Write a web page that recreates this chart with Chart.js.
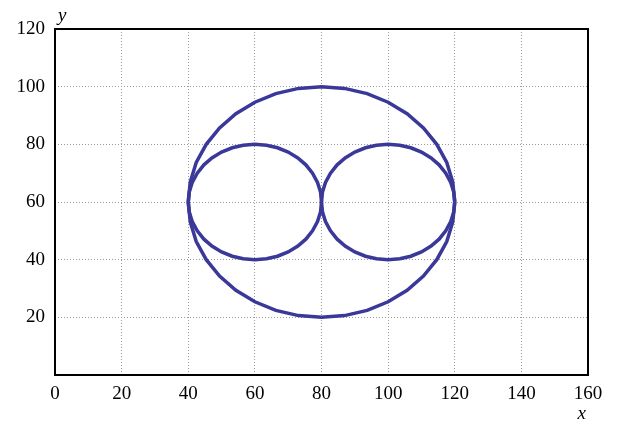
<!DOCTYPE html>
<html>
<head>
<meta charset="utf-8">
<script src="https://cdn.jsdelivr.net/npm/chart.js@4"></script>
<style>
  html, body { margin: 0; padding: 0; background: #fff; }
  #wrap { width: 618px; height: 421px; position: relative; }
</style>
</head>
<body>
<div id="wrap"><canvas id="c" width="618" height="421"></canvas></div>
<script>
// Outer circle points
const bigX = [120,119.4,117.6,114.6,110.6,105.7,100,93.7,86.9,80,73.1,66.3,60,54.3,49.4,45.4,42.4,40.6,40,40.6,42.4,45.4,49.4,54.3,60,66.3,73.1,80,86.9,93.7,100,105.7,110.6,114.6,117.6,119.4,120];
const bigY = [60,66.9,73.7,80,85.7,90.6,94.6,97.6,99.4,100,99.4,97.6,94.6,90.6,85.7,80,73.7,66.9,60,53.1,46.3,40,34.3,29.4,25.4,22.4,20.6,20,20.6,22.4,25.4,29.4,34.3,40,46.3,53.1,60];
// Left inner circle
const leftX = [80,79.7,78.8,77.3,75.3,72.9,70,66.8,63.5,60,56.5,53.2,50,47.1,44.7,42.7,41.2,40.3,40,40.3,41.2,42.7,44.7,47.1,50,53.2,56.5,60,63.5,66.8,70,72.9,75.3,77.3,78.8,79.7,80];
const leftY = [60,63.5,66.8,70,72.9,75.3,77.3,78.8,79.7,80,79.7,78.8,77.3,75.3,72.9,70,66.8,63.5,60,56.5,53.2,50,47.1,44.7,42.7,41.2,40.3,40,40.3,41.2,42.7,44.7,47.1,50,53.2,56.5,60];
// Right inner circle
const rightX = [120,119.7,118.8,117.3,115.3,112.9,110,106.8,103.5,100,96.5,93.2,90,87.1,84.7,82.7,81.2,80.3,80,80.3,81.2,82.7,84.7,87.1,90,93.2,96.5,100,103.5,106.8,110,112.9,115.3,117.3,118.8,119.7,120];
const rightY = [60,63.5,66.8,70,72.9,75.3,77.3,78.8,79.7,80,79.7,78.8,77.3,75.3,72.9,70,66.8,63.5,60,56.5,53.2,50,47.1,44.7,42.7,41.2,40.3,40,40.3,41.2,42.7,44.7,47.1,50,53.2,56.5,60];

const xTicks = [0,20,40,60,80,100,120,140,160];
const yTicks = [20,40,60,80,100,120];
const xTitle = 'x';
const yTitle = 'y';

const toPts = (xs, ys) => xs.map((x, i) => ({x: x, y: ys[i]}));
const lineColor = '#3a3898';
const mk = (xs, ys) => ({
  data: toPts(xs, ys),
  showLine: true,
  borderColor: lineColor,
  borderWidth: 3.5,
  pointRadius: 0,
  tension: 0,
  fill: false
});

const FONT = "'Liberation Serif', 'Times New Roman', serif";

const framePlugin = {
  id: 'frame',
  afterDraw(chart) {
    const {ctx, chartArea: a} = chart;
    ctx.save();
    ctx.strokeStyle = '#000';
    ctx.lineWidth = 2;
    ctx.strokeRect(a.left, a.top, a.right - a.left, a.bottom - a.top);
    ctx.fillStyle = '#000';
    ctx.font = "italic 19px " + FONT;
    ctx.textAlign = 'left';
    ctx.textBaseline = 'alphabetic';
    ctx.fillText(yTitle, a.left + 3, a.top - 8);
    ctx.textAlign = 'right';
    ctx.fillText(xTitle, a.right - 2, a.bottom + 44);
    ctx.restore();
  }
};

new Chart(document.getElementById('c'), {
  type: 'scatter',
  data: { datasets: [mk(bigX, bigY), mk(leftX, leftY), mk(rightX, rightY)] },
  options: {
    responsive: false,
    animation: false,
    layout: { padding: { left: 0, top: 29, right: 30, bottom: 0 } },
    plugins: { legend: { display: false }, tooltip: { enabled: false } },
    scales: {
      x: {
        type: 'linear', min: 0, max: 160,
        afterBuildTicks: s => { s.ticks = xTicks.map(v => ({value: v})); },
        afterFit: s => { s.height = 46; s.paddingLeft = 0; s.paddingRight = 0; },
        ticks: { color: '#000', font: { family: FONT, size: 19 }, padding: 8, maxRotation: 0 },
        grid: { color: '#9a9a9a', lineWidth: 1, drawTicks: false, tickLength: 0 },
        border: { display: false, dash: [1, 2] }
      },
      y: {
        type: 'linear', min: 0, max: 120,
        afterBuildTicks: s => { s.ticks = [0].concat(yTicks).map(v => ({value: v})); },
        afterFit: s => { s.width = 55; },
        ticks: { color: '#000', font: { family: FONT, size: 19 }, padding: 10,
                 callback: v => (yTicks.includes(v) ? String(v) : '') },
        grid: { color: '#9a9a9a', lineWidth: 1, drawTicks: false, tickLength: 0 },
        border: { display: false, dash: [1, 2] }
      }
    }
  },
  plugins: [framePlugin]
});
</script>
</body>
</html>
